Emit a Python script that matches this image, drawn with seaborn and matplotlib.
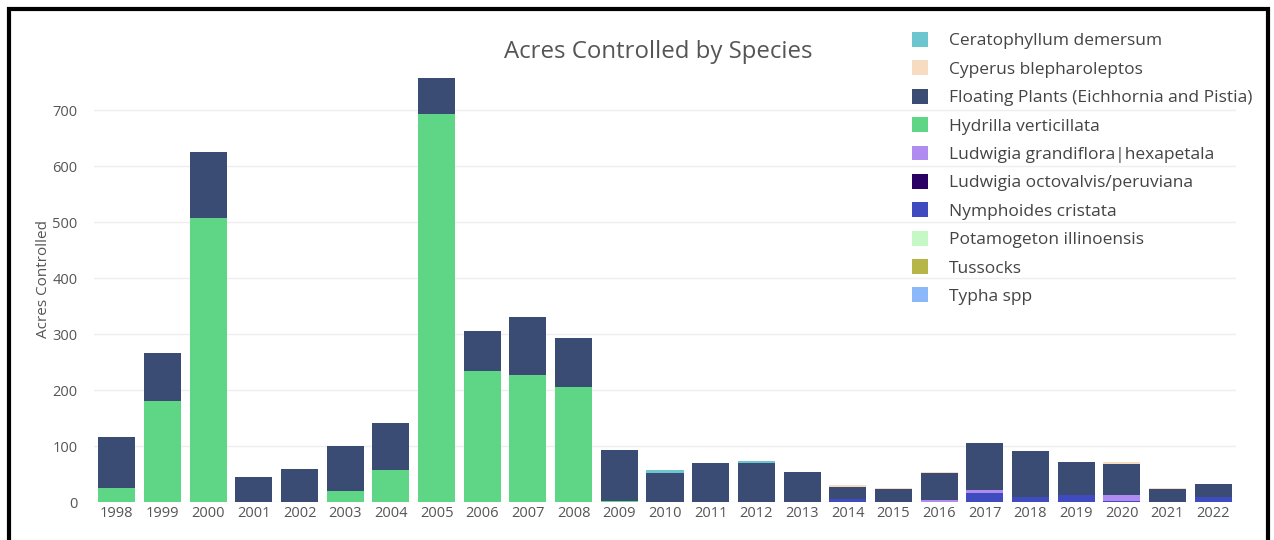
import numpy as np
import pandas as pd
import matplotlib
matplotlib.use("Agg")
import matplotlib.pyplot as plt
import seaborn as sns
from matplotlib.patches import Patch, Rectangle

years = [str(y) for y in range(1998, 2023)]

# acres per species (stacked bars)
ceratophyllum = [0, 0, 0, 0, 0, 0, 0, 0, 0, 0, 0, 0, 5, 0, 3, 0, 0, 0, 0, 0, 0, 0, 0, 0, 0]
cyperus = [0, 0, 0, 0, 0, 0, 0, 0, 0, 0, 0, 0, 0, 0, 0, 0, 3, 1, 1, 0, 0, 0, 3, 1, 0]
floating = [91, 86, 118, 45, 60, 80, 84, 64, 72, 104, 88, 91, 53, 70, 69, 54, 22, 24, 49, 83, 82, 59, 55, 24, 24]
hydrilla = [26, 180, 507, 0, 0, 20, 57, 693, 234, 227, 205, 2, 0, 0, 0, 0, 0, 0, 0, 0, 0, 0, 0, 0, 0]
ludwigia_g = [0, 0, 0, 0, 0, 0, 0, 0, 0, 0, 0, 0, 0, 0, 0, 0, 0, 0, 3, 6, 0, 0, 10, 0, 0]
ludwigia_o = [0] * 25
nymphoides = [0, 0, 0, 0, 0, 0, 0, 0, 0, 0, 0, 0, 0, 0, 1, 0, 6, 0, 1, 16, 9, 13, 3, 0, 9]
potamogeton = [0] * 25
tussocks = [0] * 25
typha = [0] * 25

species = ["Ceratophyllum demersum", "Cyperus blepharoleptos",
           "Floating Plants (Eichhornia and Pistia)", "Hydrilla verticillata",
           "Ludwigia grandiflora|hexapetala", "Ludwigia octovalvis/peruviana",
           "Nymphoides cristata", "Potamogeton illinoensis", "Tussocks", "Typha spp"]
values = [ceratophyllum, cyperus, floating, hydrilla, ludwigia_g, ludwigia_o,
          nymphoides, potamogeton, tussocks, typha]
colors = ["#6cc5cf", "#f7dcc2", "#3b4c74", "#5fd586", "#b18cf0", "#2a0066",
          "#3f4bbf", "#c6f8c6", "#b6b648", "#8ab8fa"]

df = pd.DataFrame({s: v for s, v in zip(species, values)}, index=years)

sns.set_style("white")
plt.rcParams["font.family"] = ["Open Sans", "DejaVu Sans"]

fig = plt.figure(figsize=(12.74, 5.40), dpi=100)
ax = fig.add_axes([94 / 1274, 1 - 502.2 / 540, (1236 - 94) / 1274, (502.2 - 56) / 540])

# stack from the last species (bottom) to the first (top)
stack_order = species[::-1]
cum = df[stack_order].cumsum(axis=1)
for s in species:  # tallest cumulative first, smaller drawn over it
    color = colors[species.index(s)]
    sns.barplot(x=years, y=cum[s].values, color=color, width=0.81,
                linewidth=0, saturation=1, ax=ax)

ax.set_ylim(0, 797)
ax.set_xlim(-0.5, 24.5)
ax.set_yticks([0, 100, 200, 300, 400, 500, 600, 700])
ax.grid(axis="y", color="#eeeeee", linewidth=1)
ax.set_axisbelow(True)
for sp in ax.spines.values():
    sp.set_visible(False)
ax.tick_params(axis="both", length=0, labelsize=10.5, colors="#555555", pad=3)
ax.tick_params(axis="y", pad=12)
ax.set_xlabel("")
ax.set_ylabel("Acres Controlled", fontsize=11, color="#555555", labelpad=1)

fig.text(658 / 1274, 1 - 52 / 540, "Acres Controlled by Species", ha="center", va="center",
         fontsize=17.3, color="#555555")

handles = [Patch(facecolor=c, edgecolor="none") for c in colors]
fig.legend(handles, species, loc="upper left", bbox_to_anchor=(905 / 1274, 1 - 25 / 540),
           frameon=False, fontsize=12.5, labelcolor="#444444", handlelength=0.95,
           handleheight=0.95, handletextpad=1.2, labelspacing=0.63, borderaxespad=0)

# black frame around the screenshot
fig.patches.append(Rectangle((9 / 1274, -0.05), 1259 / 1274, 1.05 - 9 / 540,
                             transform=fig.transFigure, fill=False,
                             edgecolor="black", linewidth=3))

fig.savefig("out.png", dpi=100)
